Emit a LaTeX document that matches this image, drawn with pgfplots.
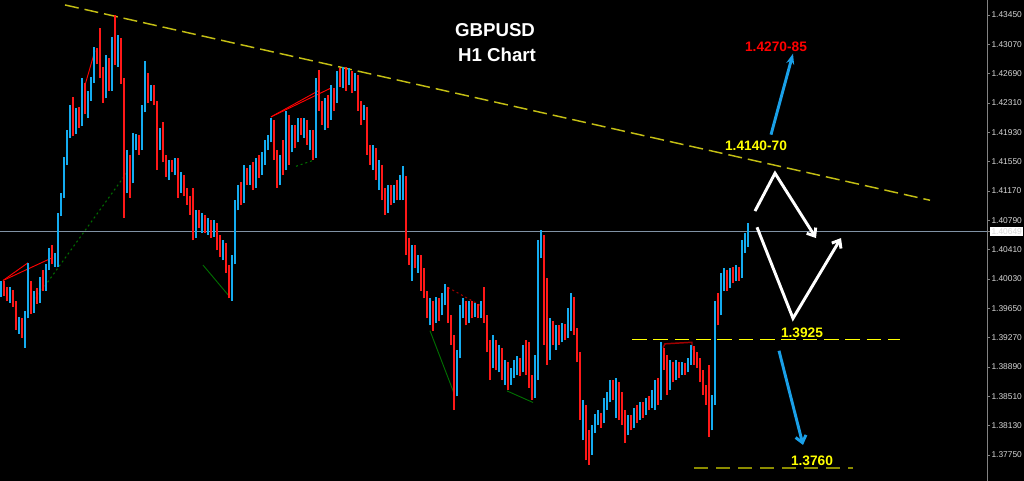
\documentclass[border=0pt]{standalone}
\usepackage{pgfplots}
\pgfplotsset{compat=1.18}
\usepackage{pgfplotstable}
\usetikzlibrary{arrows.meta}
\usepackage{fontspec}
\setmainfont{Liberation Sans}
\definecolor{upwick}{RGB}{20,172,240}
\definecolor{upbody}{RGB}{28,112,160}
\definecolor{dnwick}{RGB}{255,24,24}
\definecolor{dnbody}{RGB}{160,0,0}
\definecolor{trend}{RGB}{195,190,20}
\definecolor{lvl}{RGB}{255,255,0}
\definecolor{olive2}{RGB}{140,140,0}
\definecolor{pline}{RGB}{128,146,165}
\definecolor{arrblue}{RGB}{26,160,232}
\definecolor{dgreen}{RGB}{0,110,0}
\definecolor{axgray}{RGB}{130,130,130}
\definecolor{lblgray}{RGB}{215,215,215}
\pgfplotstableread{
x o h l c
1 1.3985 1.4001 1.3980 1.3997
4 1.3997 1.4001 1.3981 1.3989
7 1.3989 1.3993 1.3975 1.3979
10 1.3979 1.3992 1.3972 1.3987
13 1.3987 1.3989 1.3967 1.3971
16 1.3971 1.3975 1.3937 1.3941
19 1.3941 1.3954 1.3932 1.3949
22 1.3949 1.3953 1.3927 1.3932
25 1.3932 1.3962 1.3914 1.3957
28 1.3957 1.4024 1.3952 1.3995
31 1.3995 1.4001 1.3958 1.3962
34 1.3962 1.3988 1.3959 1.3984
37 1.3984 1.3991 1.3971 1.3975
40 1.3975 1.4005 1.3972 1.3998
43 1.3998 1.4014 1.3988 1.3992
46 1.3992 1.4023 1.3988 1.4017
49 1.4017 1.4043 1.4014 1.4037
52 1.4037 1.4047 1.4022 1.4024
55 1.4024 1.4037 1.4019 1.4031
58 1.4031 1.4089 1.4018 1.4087
61 1.4087 1.4115 1.4084 1.4112
64 1.4112 1.4161 1.4108 1.4154
67 1.4154 1.4196 1.4151 1.4190
70 1.4190 1.4228 1.4186 1.4221
73 1.4221 1.4239 1.4188 1.4196
76 1.4196 1.4225 1.4191 1.4221
79 1.4221 1.4226 1.4199 1.4205
82 1.4205 1.4263 1.4201 1.4254
85 1.4254 1.4257 1.4217 1.4224
88 1.4224 1.4247 1.4212 1.4244
91 1.4244 1.4265 1.4234 1.4260
94 1.4260 1.4303 1.4257 1.4296
97 1.4296 1.4302 1.4281 1.4286
100 1.4286 1.4328 1.4263 1.4267
103 1.4267 1.4277 1.4231 1.4241
106 1.4241 1.4293 1.4237 1.4283
109 1.4283 1.4289 1.4247 1.4254
112 1.4254 1.4316 1.4247 1.4312
115 1.4312 1.4345 1.4280 1.4283
118 1.4283 1.4319 1.4278 1.4312
121 1.4312 1.4315 1.4256 1.4260
124 1.4260 1.4263 1.4082 1.4125
127 1.4125 1.4170 1.4115 1.4157
130 1.4157 1.4164 1.4108 1.4131
133 1.4131 1.4192 1.4127 1.4177
136 1.4177 1.4191 1.4170 1.4186
139 1.4186 1.4190 1.4164 1.4173
142 1.4173 1.4228 1.4170 1.4224
145 1.4224 1.4286 1.4219 1.4267
148 1.4267 1.4270 1.4231 1.4237
151 1.4237 1.4254 1.4234 1.4250
154 1.4250 1.4254 1.4228 1.4231
157 1.4231 1.4234 1.4144 1.4183
160 1.4183 1.4199 1.4170 1.4193
163 1.4193 1.4206 1.4154 1.4160
166 1.4160 1.4164 1.4135 1.4141
169 1.4141 1.4157 1.4131 1.4154
172 1.4154 1.4157 1.4141 1.4147
175 1.4147 1.4160 1.4138 1.4157
178 1.4157 1.4160 1.4108 1.4118
181 1.4118 1.4141 1.4115 1.4134
184 1.4134 1.4138 1.4110 1.4115
187 1.4115 1.4121 1.4099 1.4105
190 1.4105 1.4110 1.4086 1.4092
193 1.4092 1.4121 1.4053 1.4060
196 1.4060 1.4092 1.4056 1.4086
199 1.4086 1.4092 1.4069 1.4076
202 1.4076 1.4089 1.4063 1.4082
205 1.4082 1.4086 1.4063 1.4069
208 1.4069 1.4082 1.4060 1.4076
211 1.4076 1.4079 1.4056 1.4063
214 1.4063 1.4079 1.4058 1.4073
217 1.4073 1.4076 1.4040 1.4053
220 1.4053 1.4060 1.4032 1.4040
223 1.4040 1.4053 1.4027 1.4047
226 1.4047 1.4050 1.4011 1.4017
229 1.4017 1.4021 1.3978 1.3988
232 1.3988 1.4034 1.3975 1.4027
235 1.4027 1.4105 1.4023 1.4099
238 1.4099 1.4125 1.4092 1.4112
241 1.4112 1.4128 1.4099 1.4105
244 1.4105 1.4151 1.4102 1.4138
247 1.4138 1.4147 1.4125 1.4131
250 1.4131 1.4151 1.4125 1.4141
253 1.4141 1.4154 1.4118 1.4125
256 1.4125 1.4160 1.4121 1.4151
259 1.4151 1.4164 1.4134 1.4144
262 1.4144 1.4167 1.4138 1.4157
265 1.4157 1.4183 1.4151 1.4177
268 1.4177 1.4190 1.4170 1.4186
271 1.4186 1.4212 1.4180 1.4206
274 1.4206 1.4209 1.4157 1.4164
277 1.4164 1.4170 1.4121 1.4131
280 1.4131 1.4164 1.4125 1.4157
283 1.4157 1.4183 1.4138 1.4147
286 1.4147 1.4221 1.4144 1.4209
289 1.4209 1.4216 1.4151 1.4170
292 1.4170 1.4203 1.4167 1.4199
295 1.4199 1.4203 1.4173 1.4183
298 1.4183 1.4212 1.4180 1.4209
301 1.4209 1.4212 1.4190 1.4196
304 1.4196 1.4212 1.4186 1.4206
307 1.4206 1.4209 1.4177 1.4183
310 1.4183 1.4196 1.4170 1.4190
313 1.4190 1.4196 1.4157 1.4164
316 1.4164 1.4263 1.4160 1.4254
319 1.4254 1.4274 1.4221 1.4224
322 1.4224 1.4234 1.4203 1.4209
325 1.4209 1.4237 1.4196 1.4228
328 1.4228 1.4241 1.4199 1.4212
331 1.4212 1.4254 1.4209 1.4244
334 1.4244 1.4250 1.4221 1.4234
337 1.4234 1.4273 1.4231 1.4267
340 1.4267 1.4276 1.4252 1.4257
343 1.4257 1.4278 1.4250 1.4273
346 1.4273 1.4278 1.4247 1.4260
349 1.4260 1.4276 1.4254 1.4270
352 1.4270 1.4273 1.4244 1.4257
355 1.4257 1.4270 1.4247 1.4263
358 1.4263 1.4267 1.4221 1.4228
361 1.4228 1.4234 1.4203 1.4219
364 1.4219 1.4229 1.4209 1.4224
367 1.4224 1.4226 1.4164 1.4170
370 1.4170 1.4177 1.4151 1.4164
373 1.4164 1.4177 1.4144 1.4170
376 1.4170 1.4173 1.4131 1.4134
379 1.4134 1.4157 1.4118 1.4147
382 1.4147 1.4151 1.4105 1.4112
385 1.4112 1.4121 1.4086 1.4095
388 1.4095 1.4125 1.4089 1.4115
391 1.4115 1.4125 1.4099 1.4108
394 1.4108 1.4125 1.4102 1.4118
397 1.4118 1.4131 1.4105 1.4112
400 1.4112 1.4138 1.4105 1.4125
403 1.4125 1.4149 1.4105 1.4134
406 1.4134 1.4136 1.4034 1.4053
409 1.4053 1.4056 1.4021 1.4024
412 1.4024 1.4047 1.4001 1.4040
415 1.4040 1.4047 1.4017 1.4021
418 1.4021 1.4034 1.4011 1.4030
421 1.4030 1.4034 1.3988 1.4014
424 1.4014 1.4017 1.3978 1.3981
427 1.3981 1.3988 1.3952 1.3962
430 1.3962 1.3978 1.3943 1.3972
433 1.3972 1.3975 1.3936 1.3952
436 1.3952 1.3980 1.3946 1.3975
439 1.3975 1.3978 1.3949 1.3959
442 1.3959 1.3985 1.3956 1.3980
445 1.3980 1.3997 1.3969 1.3991
448 1.3991 1.3993 1.3946 1.3952
451 1.3952 1.3956 1.3918 1.3924
454 1.3924 1.3931 1.3833 1.3856
457 1.3856 1.3911 1.3851 1.3905
460 1.3905 1.3969 1.3901 1.3962
463 1.3962 1.3978 1.3952 1.3972
466 1.3972 1.3975 1.3943 1.3956
469 1.3956 1.3975 1.3946 1.3969
472 1.3969 1.3975 1.3952 1.3959
475 1.3959 1.3972 1.3954 1.3967
478 1.3967 1.3971 1.3952 1.3959
481 1.3959 1.3975 1.3952 1.3969
484 1.3969 1.3992 1.3946 1.3952
487 1.3952 1.3956 1.3908 1.3918
490 1.3918 1.3924 1.3872 1.3895
493 1.3895 1.3931 1.3888 1.3918
496 1.3918 1.3924 1.3885 1.3892
499 1.3892 1.3918 1.3882 1.3911
502 1.3911 1.3914 1.3872 1.3879
505 1.3879 1.3898 1.3866 1.3892
508 1.3892 1.3895 1.3859 1.3872
511 1.3872 1.3888 1.3866 1.3882
514 1.3882 1.3898 1.3875 1.3888
517 1.3888 1.3903 1.3879 1.3895
520 1.3895 1.3901 1.3877 1.3885
523 1.3885 1.3918 1.3882 1.3905
526 1.3905 1.3924 1.3879 1.3892
529 1.3892 1.3921 1.3862 1.3866
532 1.3866 1.3879 1.3846 1.3853
535 1.3853 1.3905 1.3849 1.3888
538 1.3888 1.4053 1.3872 1.4034
541 1.4034 1.4066 1.4030 1.4056
544 1.4056 1.4060 1.3918 1.4001
547 1.4001 1.4004 1.3892 1.3931
550 1.3931 1.3952 1.3898 1.3943
553 1.3943 1.3949 1.3918 1.3924
556 1.3924 1.3943 1.3911 1.3936
559 1.3936 1.3943 1.3918 1.3927
562 1.3927 1.3946 1.3921 1.3939
565 1.3939 1.3945 1.3924 1.3931
568 1.3931 1.3965 1.3927 1.3959
571 1.3959 1.3985 1.3936 1.3978
574 1.3978 1.3980 1.3931 1.3936
577 1.3936 1.3939 1.3895 1.3905
580 1.3905 1.3908 1.3820 1.3827
583 1.3827 1.3846 1.3794 1.3836
586 1.3836 1.3840 1.3768 1.3794
589 1.3794 1.3807 1.3762 1.3781
592 1.3781 1.3814 1.3775 1.3807
595 1.3807 1.3828 1.3804 1.3820
598 1.3820 1.3833 1.3814 1.3827
601 1.3827 1.3830 1.3810 1.3820
604 1.3820 1.3849 1.3817 1.3840
607 1.3840 1.3856 1.3833 1.3849
610 1.3849 1.3872 1.3843 1.3866
613 1.3866 1.3872 1.3846 1.3853
616 1.3853 1.3875 1.3823 1.3866
619 1.3866 1.3869 1.3820 1.3840
622 1.3840 1.3856 1.3814 1.3827
625 1.3827 1.3833 1.3791 1.3804
628 1.3804 1.3827 1.3801 1.3820
631 1.3820 1.3827 1.3807 1.3814
634 1.3814 1.3836 1.3810 1.3830
637 1.3830 1.3840 1.3817 1.3823
640 1.3823 1.3843 1.3820 1.3836
643 1.3836 1.3843 1.3823 1.3830
646 1.3830 1.3849 1.3827 1.3843
649 1.3843 1.3851 1.3833 1.3840
652 1.3840 1.3859 1.3836 1.3853
655 1.3853 1.3872 1.3833 1.3866
658 1.3866 1.3875 1.3840 1.3849
661 1.3849 1.3921 1.3846 1.3905
664 1.3905 1.3914 1.3885 1.3895
667 1.3895 1.3905 1.3853 1.3866
670 1.3866 1.3898 1.3859 1.3888
673 1.3888 1.3895 1.3869 1.3879
676 1.3879 1.3898 1.3872 1.3892
679 1.3892 1.3895 1.3875 1.3882
682 1.3882 1.3895 1.3879 1.3888
685 1.3888 1.3894 1.3879 1.3885
688 1.3885 1.3901 1.3882 1.3895
691 1.3895 1.3918 1.3892 1.3911
694 1.3911 1.3916 1.3892 1.3898
697 1.3898 1.3908 1.3888 1.3895
700 1.3895 1.3901 1.3869 1.3879
703 1.3879 1.3885 1.3853 1.3859
706 1.3859 1.3866 1.3840 1.3846
709 1.3846 1.3892 1.3798 1.3814
712 1.3814 1.3853 1.3807 1.3846
715 1.3846 1.3975 1.3840 1.3969
718 1.3969 1.3985 1.3943 1.3959
721 1.3959 1.4011 1.3956 1.4001
724 1.4001 1.4017 1.3988 1.4008
727 1.4008 1.4014 1.3988 1.3995
730 1.3995 1.4017 1.3991 1.4011
733 1.4011 1.4019 1.3998 1.4004
736 1.4004 1.4021 1.4001 1.4014
739 1.4014 1.4019 1.4001 1.4006
742 1.4006 1.4053 1.4004 1.4043
745 1.4043 1.4063 1.4037 1.4053
748 1.4053 1.4075 1.4045 1.4065
}\candles
\begin{document}
\begin{tikzpicture}
\useasboundingbox (0,0) rectangle (768pt,360.75pt);
\fill[black] (0,0) rectangle (768pt,360.75pt);
\begin{axis}[
  at={(0,0)}, anchor=south west, scale only axis,
  width=740.25pt, height=360.75pt,
  xmin=0, xmax=987, ymin=1.374129, ymax=1.436443,
  axis x line=none, axis y line*=right,
  y axis line style={draw=axgray, line width=0.75pt, -},
  tick align=outside, major tick length=2.2pt,
  ytick style={draw=axgray, line width=0.6pt},
  ytick={1.3775,1.3813,1.3851,1.3889,1.3927,1.3965,1.4003,1.4041,1.4079,1.4117,1.4155,1.4193,1.4231,1.4269,1.4307,1.4345},
  yticklabels={1.37750,1.38130,1.38510,1.38890,1.39270,1.39650,1.40030,1.40410,1.40790,1.41170,1.41550,1.41930,1.42310,1.42690,1.43070,1.43450},
  yticklabel style={font=\fontsize{6.3}{7}\selectfont, text=lblgray, inner sep=1pt},
  extra y ticks={1.40649},
  extra y tick labels={1.40649},
  extra y tick style={tick label style={fill=white, text=black, inner sep=0.8pt}},
  candle/.style={draw=none, mark=none, forget plot},
]
% level / trend lines
\addplot[pline, line width=0.75pt] coordinates {(0,1.40649) (987,1.40649)};
\addplot[trend, line width=1.1pt, dash pattern=on 10.5pt off 4.5pt] coordinates {(65,1.4358) (930,1.4105)};
\addplot[lvl, line width=0.9pt, dash pattern=on 11pt off 5pt] coordinates {(632,1.3925) (900,1.3925)};
\addplot[olive2, line width=1.4pt, dash pattern=on 10.5pt off 6pt] coordinates {(694,1.3758) (853,1.3758)};
% pattern lines
\addplot[red, line width=0.7pt] coordinates {(3,1.4001) (28,1.4024)};
\addplot[red, line width=0.7pt] coordinates {(3,1.4001) (53,1.4031)};
\addplot[red, line width=0.7pt] coordinates {(85,1.4254) (95,1.4299)};
\addplot[red, line width=0.7pt] coordinates {(271,1.4213) (320,1.4248)};
\addplot[red, line width=0.7pt] coordinates {(271,1.4213) (332,1.4251)};
\addplot[dgreen, line width=0.8pt, dash pattern=on 1.5pt off 2.2pt] coordinates {(36,1.3978) (127,1.4141)};
\addplot[dgreen, line width=0.8pt, dash pattern=on 1.5pt off 2.2pt] coordinates {(296,1.4149) (314,1.4157)};
\addplot[dgreen, line width=0.7pt] coordinates {(203,1.4021) (229,1.3981)};
\addplot[dgreen, line width=0.7pt] coordinates {(430,1.3936) (454,1.3855)};
\addplot[dgreen, line width=0.7pt] coordinates {(507,1.3858) (533,1.3843)};
\addplot[dnbody, line width=0.8pt, dash pattern=on 1.5pt off 2.2pt] coordinates {(448,1.3992) (480,1.3969)};
\addplot[dnbody, line width=1.1pt] coordinates {(663,1.3914) (665,1.3919) (692,1.3921) (692,1.3911)};
% candles: bodies then wicks
\addplot[candle, restrict expr to domain={\thisrow{c}-\thisrow{o}}{0:1},
  error bars/.cd, y dir=plus, y explicit, error mark=none,
  error bar style={draw=upbody, line width=2pt}]
  table[x=x, y=o, y error expr=\thisrow{c}-\thisrow{o}] {\candles};
\addplot[candle, restrict expr to domain={\thisrow{o}-\thisrow{c}}{0:1},
  error bars/.cd, y dir=plus, y explicit, error mark=none,
  error bar style={draw=dnbody, line width=2pt}]
  table[x=x, y=c, y error expr=\thisrow{o}-\thisrow{c}] {\candles};
\addplot[candle, restrict expr to domain={\thisrow{c}-\thisrow{o}}{0:1},
  error bars/.cd, y dir=plus, y explicit, error mark=none,
  error bar style={draw=upwick, line width=0.8pt}]
  table[x=x, y=l, y error expr=\thisrow{h}-\thisrow{l}] {\candles};
\addplot[candle, restrict expr to domain={\thisrow{o}-\thisrow{c}}{0:1},
  error bars/.cd, y dir=plus, y explicit, error mark=none,
  error bar style={draw=dnwick, line width=0.8pt}]
  table[x=x, y=l, y error expr=\thisrow{h}-\thisrow{l}] {\candles};
% forecast arrows
\addplot[arrblue, line width=2.2pt, -{Stealth[length=8pt, width=6pt]}] coordinates {(771,1.4190) (793,1.4295)};
\addplot[arrblue, line width=2.2pt, -{Straight Barb[length=5pt, width=8pt]}] coordinates {(779,1.3910) (803,1.3788)};
\addplot[white, line width=2.2pt, -{Straight Barb[length=5pt, width=8pt]}] coordinates {(755,1.4091) (775,1.4140) (816,1.4056)};
\addplot[white, line width=2.2pt, -{Straight Barb[length=5pt, width=8pt]}] coordinates {(757,1.4070) (793,1.3952) (841,1.4056)};
% texts
\node[text=white, font=\fontsize{14}{16}\selectfont\bfseries] at (axis cs:495,1.4325) {GBPUSD};
\node[text=white, font=\fontsize{14}{16}\selectfont\bfseries] at (axis cs:497,1.4293) {H1 Chart};
\node[text=red, font=\fontsize{10.3}{12}\selectfont\bfseries] at (axis cs:776,1.4304) {1.4270-85};
\node[text=lvl, font=\fontsize{10.3}{12}\selectfont\bfseries] at (axis cs:756,1.4175) {1.4140-70};
\node[text=lvl, font=\fontsize{10.3}{12}\selectfont\bfseries] at (axis cs:802,1.3933) {1.3925};
\node[text=lvl, font=\fontsize{10.3}{12}\selectfont\bfseries] at (axis cs:812,1.3768) {1.3760};
\end{axis}
\end{tikzpicture}
\end{document}
